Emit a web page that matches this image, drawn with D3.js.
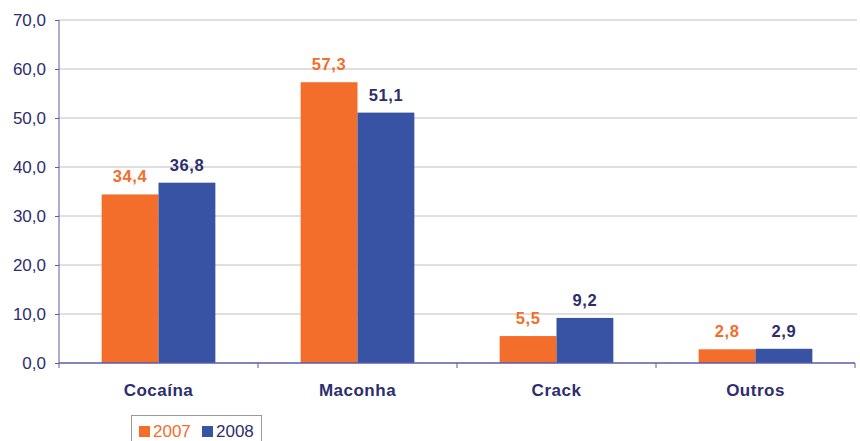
<!DOCTYPE html>
<html>
<head>
<meta charset="utf-8">
<script src="https://cdn.jsdelivr.net/npm/d3@7"></script>
<style>
  body { margin: 0; background: #fff; }
  svg text { font-family: "Liberation Sans", Arial, sans-serif; }
</style>
</head>
<body>
<div id="chart"></div>
<script>
var categories = ['Cocaína', 'Maconha', 'Crack', 'Outros'];
var series = ['2007', '2008'];
var values2007 = [34.4, 57.3, 5.5, 2.8];
var values2008 = [36.8, 51.1, 9.2, 2.9];
var yTicks = [0, 10, 20, 30, 40, 50, 60, 70];

var width = 860, height = 441;
var plotLeft = 59, plotRight = 855, plotTop = 20, plotBottom = 363;
var barColors = { '2007': '#f36d2b', '2008': '#3953a4' };
var labelColors = { '2007': '#f36d2b', '2008': '#2e2d6e' };
var navy = '#2e2d6e';
var axisColor = '#5b5ba8';

var svg = d3.select('#chart').append('svg')
  .attr('width', width)
  .attr('height', height);

var y = d3.scaleLinear().domain([0, 70]).range([plotBottom, plotTop]);

var x0 = d3.scaleBand().domain(categories).range([plotLeft, plotRight]).padding(0);

var x1 = d3.scaleBand().domain(series)
  .range([0, x0.bandwidth()])
  .paddingInner(0)
  .paddingOuter(0.75);

//gridlines
svg.append('g').selectAll('line')
  .data(yTicks.filter(function (d) { return d > 0; }))
  .enter().append('line')
  .attr('x1', plotLeft).attr('x2', plotRight + 2)
  .attr('y1', function (d) { return y(d); })
  .attr('y2', function (d) { return y(d); })
  .attr('stroke', '#c0c0c0')
  .attr('stroke-width', 1);

//bars
var rows = categories.map(function (c, i) {
  return { cat: c, vals: [ { s: '2007', v: values2007[i] }, { s: '2008', v: values2008[i] } ] };
});

var groups = svg.append('g').selectAll('g')
  .data(rows).enter().append('g')
  .attr('transform', function (d) { return 'translate(' + x0(d.cat) + ',0)'; });

groups.selectAll('rect')
  .data(function (d) { return d.vals; })
  .enter().append('rect')
  .attr('x', function (d) { return x1(d.s); })
  .attr('width', x1.bandwidth())
  .attr('y', function (d) { return y(d.v); })
  .attr('height', function (d) { return plotBottom - y(d.v); })
  .attr('fill', function (d) { return barColors[d.s]; });

groups.selectAll('text')
  .data(function (d) { return d.vals; })
  .enter().append('text')
  .attr('x', function (d) { return x1(d.s) + x1.bandwidth() / 2; })
  .attr('y', function (d) { return y(d.v) - 12; })
  .attr('text-anchor', 'middle')
  .attr('font-size', 16.5)
  .attr('font-weight', 'bold')
  .attr('letter-spacing', 0.6)
  .attr('fill', function (d) { return labelColors[d.s]; })
  .text(function (d) { return d.v.toFixed(1).replace('.', ','); });

//y axis
var yAxis = d3.axisLeft(y).tickValues(yTicks).tickSize(4).tickPadding(9)
  .tickFormat(function (d) { return d.toFixed(1).replace('.', ','); });

var yg = svg.append('g').attr('transform', 'translate(' + plotLeft + ',0)').call(yAxis);
yg.select('.domain').remove();
yg.selectAll('line').attr('stroke', axisColor);
yg.selectAll('text').attr('fill', navy).attr('font-size', 17)
  .style('font-family', '"Liberation Sans", Arial, sans-serif');
yg.append('line').attr('x1', 0).attr('x2', 0).attr('y1', plotTop).attr('y2', plotBottom + 5)
  .attr('stroke', axisColor);

//x axis
svg.append('line')
  .attr('x1', plotLeft).attr('x2', plotRight)
  .attr('y1', plotBottom).attr('y2', plotBottom)
  .attr('stroke', axisColor).attr('stroke-width', 1.5);

svg.append('g').selectAll('line')
  .data(categories)
  .enter().append('line')
  .attr('x1', function (d) { return x0(d) + x0.bandwidth(); })
  .attr('x2', function (d) { return x0(d) + x0.bandwidth(); })
  .attr('y1', plotBottom).attr('y2', plotBottom + 5)
  .attr('stroke', axisColor);

svg.append('g').selectAll('text')
  .data(categories)
  .enter().append('text')
  .attr('x', function (d) { return x0(d) + x0.bandwidth() / 2; })
  .attr('y', 396)
  .attr('text-anchor', 'middle')
  .attr('font-size', 17)
  .attr('font-weight', 'bold')
  .attr('letter-spacing', 0.5)
  .attr('fill', navy)
  .text(function (d) { return d; });

//legend
var legend = svg.append('g');
legend.append('rect')
  .attr('x', 131.5).attr('y', 415.5)
  .attr('width', 130).attr('height', 40)
  .attr('fill', '#fff').attr('stroke', '#999').attr('stroke-width', 1);

var legendX = [139, 202];
series.forEach(function (s, i) {
  legend.append('rect')
    .attr('x', legendX[i]).attr('y', 426)
    .attr('width', 11).attr('height', 11)
    .attr('fill', barColors[s]);
  legend.append('text')
    .attr('x', legendX[i] + 14).attr('y', 437)
    .attr('font-size', 17)
    .attr('fill', i === 0 ? barColors[s] : navy)
    .text(s);
});
</script>
</body>
</html>
